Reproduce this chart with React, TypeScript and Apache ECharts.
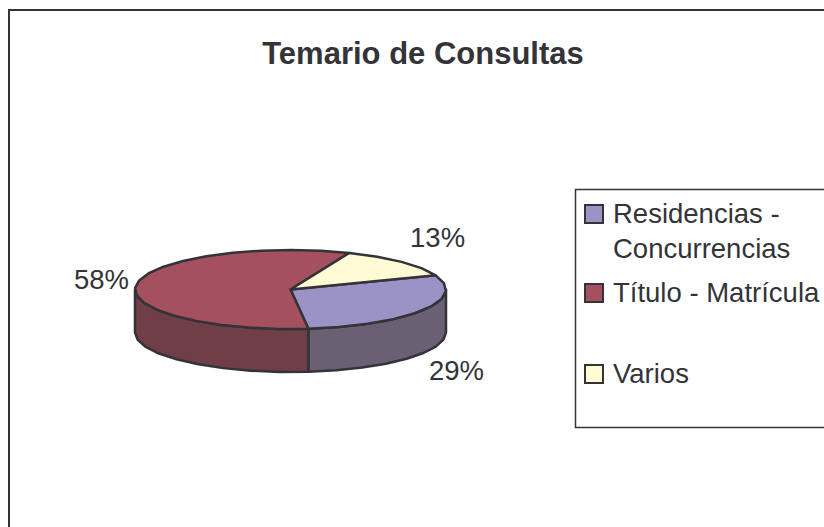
import React, { useEffect, useRef } from "react";
import * as echarts from "echarts";

const title = "Temario de Consultas";
const categories = ["Residencias -\nConcurrencias", "Título - Matrícula", "Varios"];
const values = [29, 58, 13];
const topColors = ["#9B93C6", "#A5505F", "#FFFBD5"];
const sideColors = ["#6B5F73", "#6F3E47", "#8A866A"];
const INK = "#333338";
const FONT = '"Liberation Sans", Arial, sans-serif';

const cx = 290.5, cy = 289.5, rx = 155.5, ry = 39.5, depth = 43;
const startDeg = 21;
const total = values.reduce((a, b) => a + b, 0);
// nudges from the slice's rim point to its label's centre
const labelNudge = [[33, 61], [-35, -5], [36, -24]];

const pt = (deg: number, dy = 0): number[] => {
  const a = (deg * Math.PI) / 180;
  return [cx + rx * Math.cos(a), cy - ry * Math.sin(a) + dy];
};
const arc = (from: number, to: number, dy = 0): number[][] => {
  const steps = Math.max(1, Math.round(Math.abs(to - from) / 11));
  const out: number[][] = [];
  for (let i = 0; i <= steps; i++) out.push(pt(from + ((to - from) * i) / steps, dy));
  return out;
};

const renderItem = (params: any, api: any) => {
  const i = params.dataIndex;
  let before = 0;
  for (let k = 0; k < i; k++) before += values[k];
  const a0 = startDeg - (before / total) * 360;
  const a1 = a0 - (api.value(0) / total) * 360;
  const mid = (a0 + a1) / 2;
  const children: any[] = [];
  // visible front wall: the part of the slice in the lower half of the ellipse
  const s0 = Math.min(a0, 0);
  const s1 = Math.max(a1, -180);
  if (s0 > s1) {
    const top = arc(s0, s1);
    const bottom = arc(s1, s0, depth);
    children.push({
      type: "polygon",
      shape: { points: [...top, ...bottom] },
      style: { fill: sideColors[i], stroke: INK, lineWidth: 2.5, lineJoin: "round" },
    });
  }
  children.push({
    type: "polygon",
    shape: { points: [[cx, cy], ...arc(a0, a1)] },
    style: { fill: topColors[i], stroke: INK, lineWidth: 2.5, lineJoin: "round" },
  });
  const rim = pt(mid);
  children.push({
    type: "text",
    style: {
      text: Math.round((api.value(0) / total) * 100) + "%",
      x: rim[0] + labelNudge[i][0],
      y: rim[1] + labelNudge[i][1],
      align: "center",
      verticalAlign: "middle",
      fill: INK,
      font: `27.5px ${FONT}`,
    },
  });
  return { type: "group", children };
};

const legendTops = [213, 292, 373];

export default function App() {
  const ref = useRef<HTMLDivElement>(null);
  useEffect(() => {
    document.body.style.margin = "0";
    const chart = echarts.init(ref.current!, undefined, { renderer: "svg" });
    const legendEls: any[] = [];
    categories.forEach((c, i) => {
      legendEls.push({
        type: "rect",
        shape: { x: 585, y: legendTops[i] - 8, width: 18, height: 18 },
        style: { fill: topColors[i], stroke: INK, lineWidth: 2 },
      });
      c.split("\n").forEach((line, j) => {
        legendEls.push({
          type: "text",
          style: {
            text: line,
            x: 613,
            y: legendTops[i] + j * 35,
            verticalAlign: "middle",
            fill: INK,
            font: `27.5px ${FONT}`,
          },
        });
      });
    });
    chart.setOption({
      animation: false,
      backgroundColor: "#fff",
      title: {
        text: title,
        left: 418,
        top: 33,
        textAlign: "center",
        textStyle: { fontFamily: FONT, fontSize: 31, fontWeight: "bold", color: INK },
      },
      graphic: [
        {
          type: "rect",
          z: -1,
          shape: { x: 9, y: 10, width: 830, height: 530 },
          style: { fill: "#fff", stroke: INK, lineWidth: 2 },
        },
        {
          type: "rect",
          z: -1,
          shape: { x: 575.5, y: 189.5, width: 270, height: 238 },
          style: { fill: "#fff", stroke: INK, lineWidth: 1.5 },
        },
        ...legendEls,
      ],
      series: [
        {
          type: "custom",
          coordinateSystem: "none",
          renderItem,
          data: values.map((v) => [v]),
        },
      ],
    });
    return () => chart.dispose();
  }, []);
  return (
    <div
      ref={ref}
      style={{ position: "absolute", left: 0, top: 0, width: 824, height: 527, overflow: "hidden" }}
    />
  );
}
